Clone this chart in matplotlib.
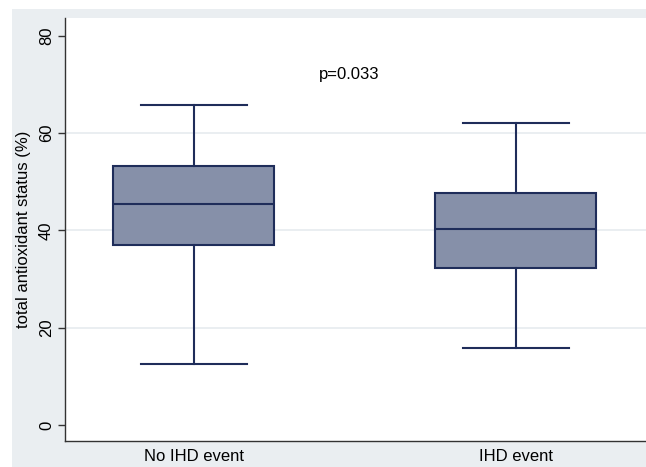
import matplotlib.pyplot as plt
import matplotlib.patches as mpatches

plt.rcParams['font.family'] = ['Liberation Sans', 'DejaVu Sans']

# пятичисловые сводки
groups = ["No IHD event", "IHD event"]
whislo = [12.5, 15.8]
q1 = [37.1, 32.2]
med = [45.4, 40.4]
q3 = [53.2, 47.8]
whishi = [65.9, 62.1]
p_label = "p=0.033"

yticks = [0, 20, 40, 60, 80]

navy = "#1f2d5a"
box_fill = "#8690a9"
outer_gray = "#eaeef1"

fig = plt.figure(figsize=(6.46, 4.67), dpi=100)
fig.patch.set_facecolor("white")

# серая подложка вокруг области графика
fig.patches.append(mpatches.Rectangle(
    (12 / 646, 0), 634 / 646, (467 - 9) / 467,
    transform=fig.transFigure, facecolor=outer_gray, edgecolor="none", zorder=-10
))

ax = fig.add_axes([65 / 646, 26 / 467, 581 / 646, 423 / 467])
ax.set_facecolor("white")
ax.set_zorder(1)

stats = [
    dict(label=g, whislo=lo, q1=a, med=m, q3=b, whishi=hi, fliers=[])
    for g, lo, a, m, b, hi in zip(groups, whislo, q1, med, q3, whishi)
]
ax.bxp(
    stats, positions=[1, 2], widths=0.5, capwidths=0.33,
    patch_artist=True, showfliers=False,
    boxprops=dict(facecolor=box_fill, edgecolor=navy, linewidth=1.5),
    medianprops=dict(color=navy, linewidth=1.5),
    whiskerprops=dict(color=navy, linewidth=1.5),
    capprops=dict(color=navy, linewidth=1.5),
)

ax.set_xlim(0.6, 2.405)
ax.set_ylim(-3.3, 83.7)
ax.set_yticks(yticks)
ax.set_yticklabels([str(t) for t in yticks], rotation=90, va="center")
ax.set_xticks([1, 2])
ax.set_xticklabels(groups)
ax.tick_params(axis="x", length=0, labelsize=12, pad=6, colors="black")
ax.tick_params(axis="y", length=5, width=1, labelsize=12, pad=3, color="#333333")

# линии сетки только на внутренних делениях
for t in yticks[1:-1]:
    ax.axhline(t, color="#e6ebef", linewidth=1.2, zorder=0)

ax.set_ylabel("total antioxidant status (%)", fontsize=12, labelpad=6)

for side in ("top", "right"):
    ax.spines[side].set_visible(False)
for side in ("left", "bottom"):
    ax.spines[side].set_color("#333333")
    ax.spines[side].set_linewidth(1)

ax.text(1.39, 72, p_label, fontsize=12, ha="left", va="center")

fig.savefig("out.png", dpi=100, facecolor=fig.get_facecolor())
